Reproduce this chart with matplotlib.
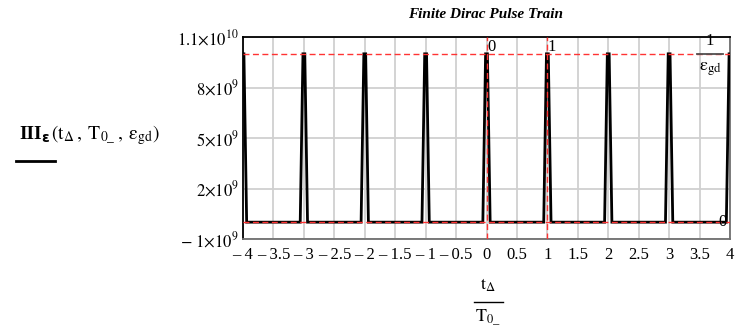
import numpy as np
import matplotlib
matplotlib.use("Agg")
import matplotlib.pyplot as plt
from matplotlib.lines import Line2D

plt.rcParams["font.family"] = ["Liberation Serif", "DejaVu Serif"]
plt.rcParams["mathtext.fontset"] = "stix"

# Pulse train data
pulse_centers = [-4, -3, -2, -1, 0, 1, 2, 3, 4]
peak_height = 1.0e10          # 1 / eps_gd
base_level = 0.0
marker_x = [0, 1]
marker_x_labels = ["0", "1"]

x_ticks = [-4, -3.5, -3, -2.5, -2, -1.5, -1, -0.5, 0, 0.5, 1, 1.5, 2, 2.5, 3, 3.5, 4]
x_tick_labels = ["\u2013 4", "\u2013 3.5", "\u2013 3", "\u2013 2.5", "\u2013 2", "\u2013 1.5",
                 "\u2013 1", "\u2013 0.5", "0", "0.5", "1", "1.5", "2", "2.5", "3", "3.5", "4"]
y_ticks = [-1e9, 2e9, 5e9, 8e9, 1.1e10]
y_tick_labels = [r"$\mathrm{-\ 1{\times}10^{9}}$", r"$\mathrm{2{\times}10^{9}}$",
                 r"$\mathrm{5{\times}10^{9}}$", r"$\mathrm{8{\times}10^{9}}$",
                 r"$\mathrm{1.1{\times}10^{10}}$"]

# half-widths of each sampled pulse (base and flat top), in units of t/T0
half_base = 0.06
half_top = 0.015

xs, ys = [], []
for c in pulse_centers:
    xs += [c - half_base, c - half_top, c + half_top, c + half_base]
    ys += [base_level, peak_height, peak_height, base_level]

W, H = 744, 332
fig = plt.figure(figsize=(W / 100, H / 100), dpi=100)
ax = fig.add_axes([243 / W, 1 - 239 / H, 487 / W, 202 / H])

ax.set_xlim(-4, 4)
ax.set_ylim(-1e9, 1.1e10)
ax.set_xticks(x_ticks)
ax.set_xticklabels(x_tick_labels)
ax.set_yticks(y_ticks)
ax.set_yticklabels(y_tick_labels)
ax.tick_params(length=0, labelsize=12, pad=6)
ax.tick_params(axis="y", pad=3)

ax.grid(True, color="#d0d0d0", lw=1.3, zorder=0)
ax.set_axisbelow(True)

ax.plot(xs, ys, color="black", lw=2.0, zorder=3, solid_joinstyle="miter")

red = "#ff3333"
for yv in [base_level, peak_height]:
    ax.axhline(yv, color=red, lw=1.0, dashes=(4.3, 2.5), zorder=4)
for xv in marker_x:
    ax.axvline(xv, color=red, lw=1.0, dashes=(4.3, 2.5), zorder=4)

for xv, lab in zip(marker_x, marker_x_labels):
    ax.text(xv + 0.01, 1.1e10 - 0.1e9, lab, fontsize=12, ha="left", va="top", zorder=5)

ax.text(3.95, base_level, "0", fontsize=12, ha="right", va="center", zorder=5)

for side in ["top", "left"]:
    ax.spines[side].set_color("black")
    ax.spines[side].set_linewidth(1.3)
for side in ["bottom", "right"]:
    ax.spines[side].set_color("#707070")
    ax.spines[side].set_linewidth(1.3)

# 1/eps_gd fraction at top right
fig.text(710 / W, 1 - 41 / H, "1", fontsize=12, ha="center", va="center")
fig.add_artist(Line2D([697 / W, 723 / W], [1 - 53.5 / H, 1 - 53.5 / H],
                      color="#505050", lw=1.3, transform=fig.transFigure))
fig.text(710 / W, 1 - 69 / H, r"$\mathrm{\varepsilon_{gd}}$", fontsize=13,
         ha="center", va="center")

# title
fig.text(486 / W, 1 - 14 / H, "Finite Dirac Pulse Train", fontsize=11,
         fontweight="bold", fontstyle="italic", ha="center", va="center")

# x label as a fraction
fig.text(488 / W, 1 - 285 / H, r"$\mathrm{t_{\Delta}}$", fontsize=13, ha="center", va="center")
fig.add_artist(Line2D([474 / W, 503 / W], [1 - 302 / H, 1 - 302 / H],
                      color="black", lw=1.0, transform=fig.transFigure))
fig.text(488 / W, 1 - 318 / H, r"$\mathrm{T_{0\_}}$", fontsize=13, ha="center", va="center")

# y label: III with bold epsilon subscript and its arguments
fig.text(19 / W, 1 - 138.5 / H, "III", fontsize=14, fontweight="bold",
         ha="left", va="baseline")
fig.text(41 / W, 1 - 141.5 / H, "\u03b5", fontsize=10, fontweight="bold",
         family="DejaVu Sans", ha="left", va="baseline")
fig.text(51 / W, 1 - 135 / H,
         r"$\left(\mathrm{t_{\Delta}}\,,\;\mathrm{T_{0\_}}\,,\;\mathrm{\varepsilon_{gd}}\right)$",
         fontsize=14, ha="left", va="center")
fig.add_artist(Line2D([16 / W, 55 / W], [1 - 161 / H, 1 - 161 / H],
                      color="black", lw=2.0, transform=fig.transFigure))

fig.savefig("out.png", dpi=100)
